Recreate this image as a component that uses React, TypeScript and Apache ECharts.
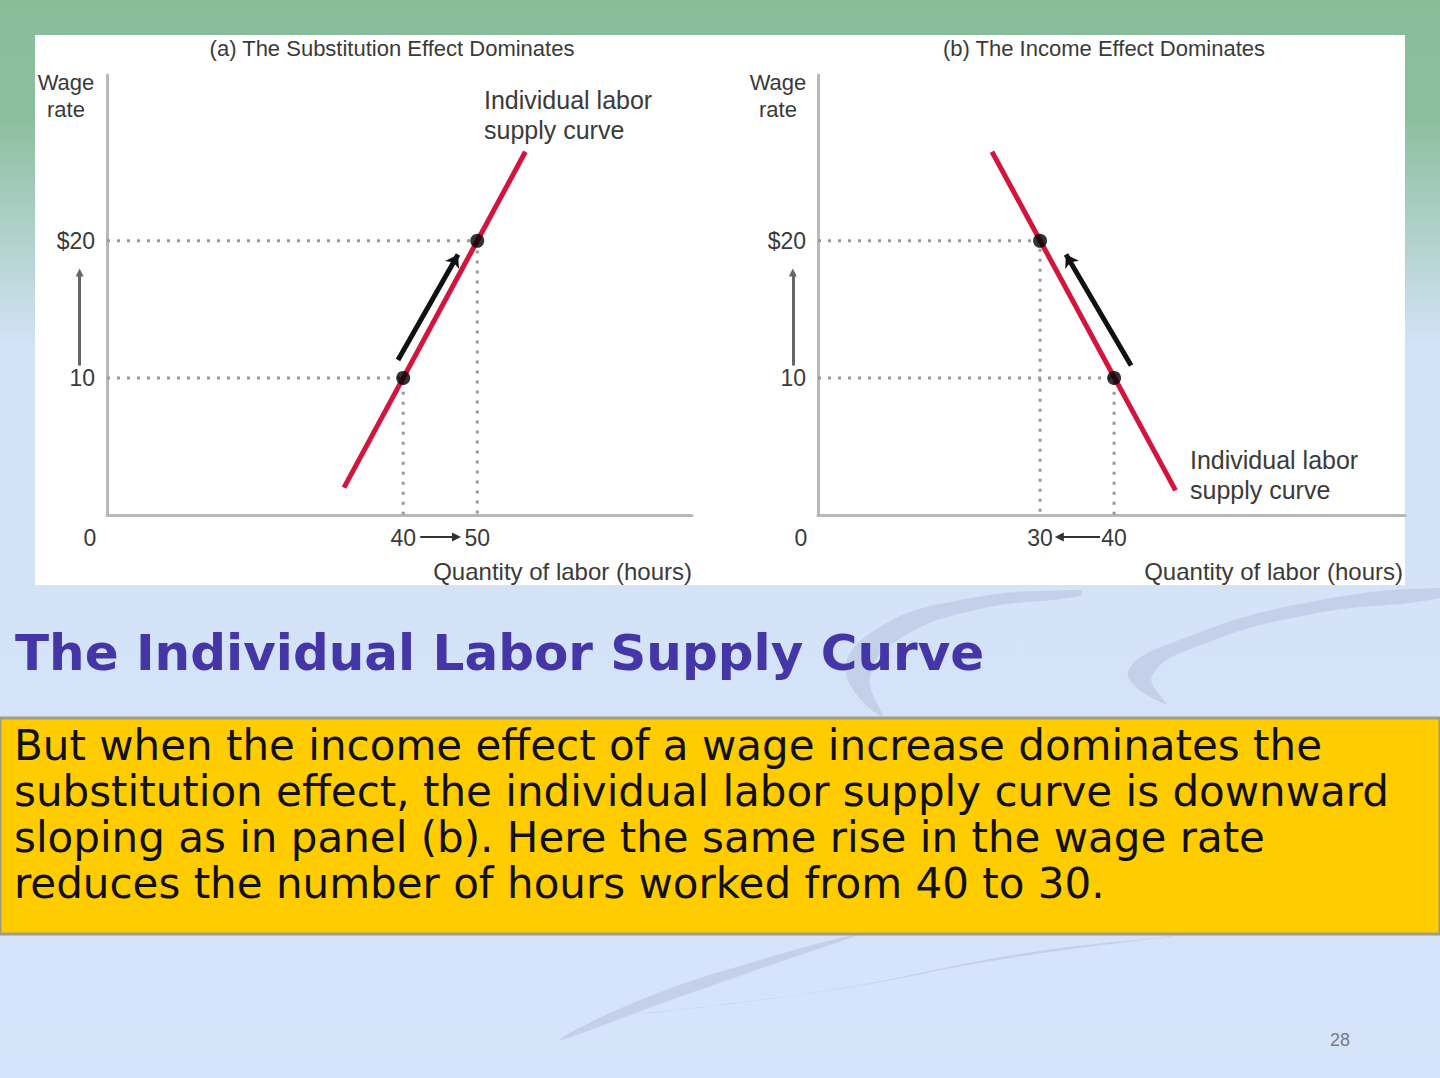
import { useEffect, useRef } from "react";
import * as echarts from "echarts";

// tick labels
const wageTicks = [10, 20];
const hoursTicksA = [0, 40, 50];
const hoursTicksB = [0, 30, 40];

// panel (a): substitution effect dominates
const supplyA = [[32, 2], [56.5, 26.5]];
const pointsA = [[40, 10], [50, 20]];
const moveA = [[39.3, 11.3], [47.4, 19.0]];
const hoursShiftA = [[42.3, -1.6], [47.2, -1.6]];
const wageRiseA = [[-3.7, 10.9], [-3.7, 17.7]];

// panel (b): income effect dominates
const supplyB = [[23.5, 26.5], [48.3, 1.8]];
const pointsB = [[40, 10], [30, 20]];
const moveB = [[42.3, 10.9], [33.5, 19.0]];
const hoursShiftB = [[38.1, -1.6], [32.6, -1.6]];
const wageRiseB = [[-3.4, 10.9], [-3.4, 17.7]];

const bodyLines = [
  "But when the income effect of a wage increase dominates the",
  "substitution effect, the individual labor supply curve is downward",
  "sloping as in panel (b). Here the same rise in the wage rate",
  "reduces the number of hours worked from 40 to 30.",
];

const chartFont = "Liberation Sans";
const chartInk = "#3a3a3a";

function txt(text: string, x: number, y: number, opts: any = {}) {
  const align = opts.align || "left";
  return {
    type: "text",
    x,
    y,
    z: opts.z ?? 5,
    style: {
      text,
      fill: opts.fill || chartInk,
      fontSize: opts.fontSize || 23,
      fontFamily: opts.fontFamily || chartFont,
      fontWeight: opts.fontWeight || "normal",
      lineHeight: opts.lineHeight,
      align,
      textAlign: align,
      verticalAlign: "middle",
      textVerticalAlign: "middle",
    },
  };
}

function axesFor(idx: number, hoursTicks: number[], xMax: number) {
  const axisLine = { show: true, lineStyle: { color: "#b8b8b8", width: 3 } };
  const labelBase = { color: chartInk, fontSize: 23, fontFamily: chartFont };
  return {
    x: {
      type: "value",
      gridIndex: idx,
      min: 0,
      max: xMax,
      axisLine,
      axisTick: { show: false },
      splitLine: { show: false },
      axisLabel: {
        ...labelBase,
        margin: 11,
        customValues: hoursTicks,
        formatter: (v: number) => (v === 0 ? "{z|0}" : String(v)),
        rich: { z: { ...labelBase, padding: [0, 34, 0, 0] } },
      },
    },
    y: {
      type: "value",
      gridIndex: idx,
      min: 0,
      max: 32.1,
      axisLine,
      axisTick: { show: false },
      splitLine: { show: false },
      axisLabel: {
        ...labelBase,
        margin: 12,
        customValues: wageTicks,
        formatter: (v: number) => (v === 20 ? "$20" : String(v)),
      },
    },
  };
}

function panelSeries(
  idx: number,
  supply: number[][],
  points: number[][],
  move: number[][],
  hoursShift: number[][],
  wageRise: number[][]
) {
  const base = { xAxisIndex: idx, yAxisIndex: idx, silent: true };
  const guides = points.map((p) => ({
    ...base,
    type: "line",
    data: [[0, p[1]], [p[0], p[1]], [p[0], 0]],
    symbol: "none",
    lineStyle: { color: "#999999", width: 3, type: [3, 7] },
    z: 2,
  }));
  return [
    ...guides,
    {
      ...base,
      type: "line",
      data: supply,
      symbol: "none",
      lineStyle: { color: "#d3143d", width: 5 },
      z: 3,
      markLine: {
        silent: true,
        symbol: ["none", "arrow"],
        symbolSize: 12,
        label: { show: false },
        lineStyle: { color: "#111", width: 5, type: "solid" },
        data: [[{ coord: move[0] }, { coord: move[1] }]],
      },
    },
    {
      ...base,
      type: "scatter",
      data: points,
      symbol: "circle",
      symbolSize: 14,
      itemStyle: { color: "#000" },
      z: 4,
    },
    {
      ...base,
      type: "lines",
      coordinateSystem: "cartesian2d",
      clip: false,
      symbol: ["none", "triangle"],
      symbolSize: 9,
      data: [{ coords: hoursShift }],
      lineStyle: { color: "#333", width: 2, opacity: 1 },
      z: 4,
    },
    {
      ...base,
      type: "lines",
      coordinateSystem: "cartesian2d",
      clip: false,
      symbol: ["none", "triangle"],
      symbolSize: 8,
      data: [{ coords: wageRise }],
      lineStyle: { color: "#666", width: 3, opacity: 1 },
      z: 4,
    },
  ];
}

export default function App() {
  const ref = useRef<HTMLDivElement | null>(null);

  useEffect(() => {
    document.body.style.margin = "0";
    if (!ref.current) return;
    const chart = echarts.init(ref.current, null, { renderer: "svg" });

    const axA = axesFor(0, hoursTicksA, 79);
    const axB = axesFor(1, hoursTicksB, 79.3);

    const swoosh = (points: number[][]) => ({
      type: "polygon",
      z: -8,
      shape: { points, smooth: 0.45 },
      style: { fill: "#c4d0ea" },
    });

    chart.setOption({
      animation: false,
      graphic: [
        {
          type: "rect",
          z: -10,
          shape: { x: 0, y: 0, width: 1440, height: 1078 },
          style: {
            fill: {
              type: "linear",
              x: 0,
              y: 0,
              x2: 0,
              y2: 1,
              colorStops: [
                { offset: 0, color: "#89bd9a" },
                { offset: 0.11, color: "#8cbf9e" },
                { offset: 0.32, color: "#d3e2f6" },
                { offset: 1, color: "#d6e4fb" },
              ],
            },
          },
        },
        swoosh([[1440, 588], [1310, 602], [1190, 636], [1128, 672], [1166, 704], [1152, 676], [1198, 646], [1312, 614], [1440, 598]]),
        swoosh([[1080, 590], [960, 600], [875, 630], [846, 672], [882, 716], [870, 676], [898, 640], [975, 610], [1080, 596]]),
        swoosh([[1190, 934], [1010, 958], [820, 992], [620, 1016], [830, 990], [1020, 954], [1170, 936]]),
        swoosh([[860, 934], [760, 960], [640, 1000], [560, 1040], [660, 1004], [780, 962]]),
        {
          type: "rect",
          z: -5,
          shape: { x: 35, y: 35, width: 1370, height: 550 },
          style: { fill: "#ffffff" },
        },
        {
          type: "rect",
          z: -5,
          shape: { x: 0, y: 718, width: 1440, height: 216 },
          style: { fill: "#ffcc00", stroke: "#a29c84", lineWidth: 3 },
        },
        txt("(a) The Substitution Effect Dominates", 392, 48, { align: "center", fontSize: 22 }),
        txt("(b) The Income Effect Dominates", 1104, 48, { align: "center", fontSize: 22 }),
        txt("Wage\nrate", 66, 96, { align: "center", lineHeight: 27, fontSize: 22 }),
        txt("Wage\nrate", 778, 96, { align: "center", lineHeight: 27, fontSize: 22 }),
        txt("Individual labor\nsupply curve", 484, 115, { lineHeight: 30, fontSize: 25 }),
        txt("Individual labor\nsupply curve", 1190, 475, { lineHeight: 30, fontSize: 25 }),
        txt("Quantity of labor (hours)", 692, 571, { align: "right", fontSize: 24 }),
        txt("Quantity of labor (hours)", 1403, 571, { align: "right", fontSize: 24 }),
        txt("The Individual Labor Supply Curve", 15, 653, {
          fill: "#4536a8",
          fontSize: 50,
          fontWeight: "bold",
          fontFamily: "DejaVu Sans",
        }),
        ...bodyLines.map((line, i) =>
          txt(line, 14, 745 + i * 46, { fill: "#111", fontSize: 42, fontFamily: "DejaVu Sans" })
        ),
        txt("28", 1340, 1040, { align: "center", fill: "#7a7a7a", fontSize: 18 }),
      ],
      grid: [
        { left: 107, top: 75, width: 585, height: 440 },
        { left: 818, top: 75, width: 587, height: 440 },
      ],
      xAxis: [axA.x, axB.x],
      yAxis: [axA.y, axB.y],
      series: [
        ...panelSeries(0, supplyA, pointsA, moveA, hoursShiftA, wageRiseA),
        ...panelSeries(1, supplyB, pointsB, moveB, hoursShiftB, wageRiseB),
      ],
    });

    return () => chart.dispose();
  }, []);

  return <div ref={ref} style={{ width: 1440, height: 1078 }} />;
}
